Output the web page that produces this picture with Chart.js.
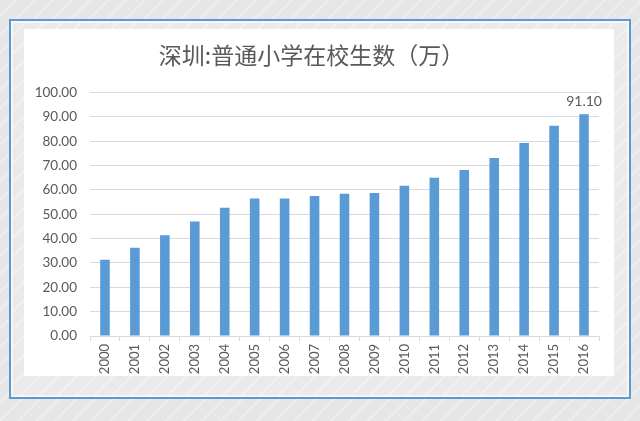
<!DOCTYPE html>
<html><head><meta charset="utf-8">
<script src="https://cdn.jsdelivr.net/npm/chart.js@4"></script>
<style>
html,body{margin:0;padding:0;width:640px;height:421px;overflow:hidden;}
body{background:#e6e6e6;background-image:repeating-linear-gradient(135deg,#e6e6e6 0px,#e6e6e6 10px,#eeeeee 11px,#eeeeee 12px,#e6e6e6 13px);}
#frame{position:absolute;left:9px;top:19px;width:618px;height:376px;border:2px solid #5b9bd5;background:#ebebeb;background-image:repeating-linear-gradient(135deg,#eaeaea 0px,#eaeaea 10px,#f1f1f1 11px,#f1f1f1 12px,#eaeaea 13px);box-shadow:inset 0 0 0 2px #f6f6f6;}
#panel{position:absolute;left:24px;top:29px;width:590px;height:347px;background:#fff;}
canvas{display:block;}
</style></head>
<body>
<div id="frame"></div>
<div id="panel"><canvas id="c" width="590" height="347"></canvas></div>
<script>
const title = '深圳:普通小学在校生数（万）';
const years = ['2000','2001','2002','2003','2004','2005','2006','2007','2008','2009','2010','2011','2012','2013','2014','2015','2016'];
const students = [31.3,36.3,41.4,47.0,52.7,56.5,56.5,57.5,58.4,58.8,61.7,65.0,68.2,73.1,79.3,86.4,91.1];
const labelIndex = [16];

const dataLabels = {
  id:'dataLabels',
  afterDatasetsDraw(chart){
    const ctx = chart.ctx;
    const meta = chart.getDatasetMeta(0);
    ctx.save();
    ctx.font = '14px Lato, "Noto Sans", sans-serif';
    ctx.fillStyle = '#595959';
    ctx.textAlign = 'center';
    ctx.textBaseline = 'bottom';
    labelIndex.forEach(i=>{
      const b = meta.data[i];
      ctx.fillText(students[i].toFixed(2), b.x, b.y - 6);
    });
    ctx.restore();
  }
};

new Chart(document.getElementById('c'), {
  type:'bar',
  data:{labels:years,datasets:[{data:students,backgroundColor:'#5b9bd5',borderWidth:0,barPercentage:0.32,categoryPercentage:1}]},
  options:{
    responsive:false,animation:false,
    layout:{padding:{left:0,right:15,top:0,bottom:0}},
    plugins:{
      legend:{display:false},tooltip:{enabled:false},
      title:{display:true,text:title,color:'#595959',font:{family:'"Noto Sans CJK SC", sans-serif',size:23,weight:'normal'},padding:{top:12,bottom:24}}
    },
    scales:{
      y:{min:0,max:100,
        ticks:{stepSize:10,callback:v=>v.toFixed(2),color:'#595959',font:{family:'Lato, "Noto Sans", sans-serif',size:13.5},padding:13},
        afterFit:s=>{s.width=66;},
        grid:{color:'#d9d9d9',drawTicks:false},border:{display:false}},
      x:{ticks:{color:'#595959',font:{family:'Lato, "Noto Sans", sans-serif',size:13},minRotation:90,maxRotation:90,padding:3},
        afterFit:s=>{s.height=40;},
        grid:{display:true,offset:true,drawOnChartArea:false,drawTicks:true,tickLength:5,color:'#d9d9d9'},
        border:{display:true,color:'#d9d9d9'}}
    }
  },
  plugins:[dataLabels]
});
</script>
</body></html>
